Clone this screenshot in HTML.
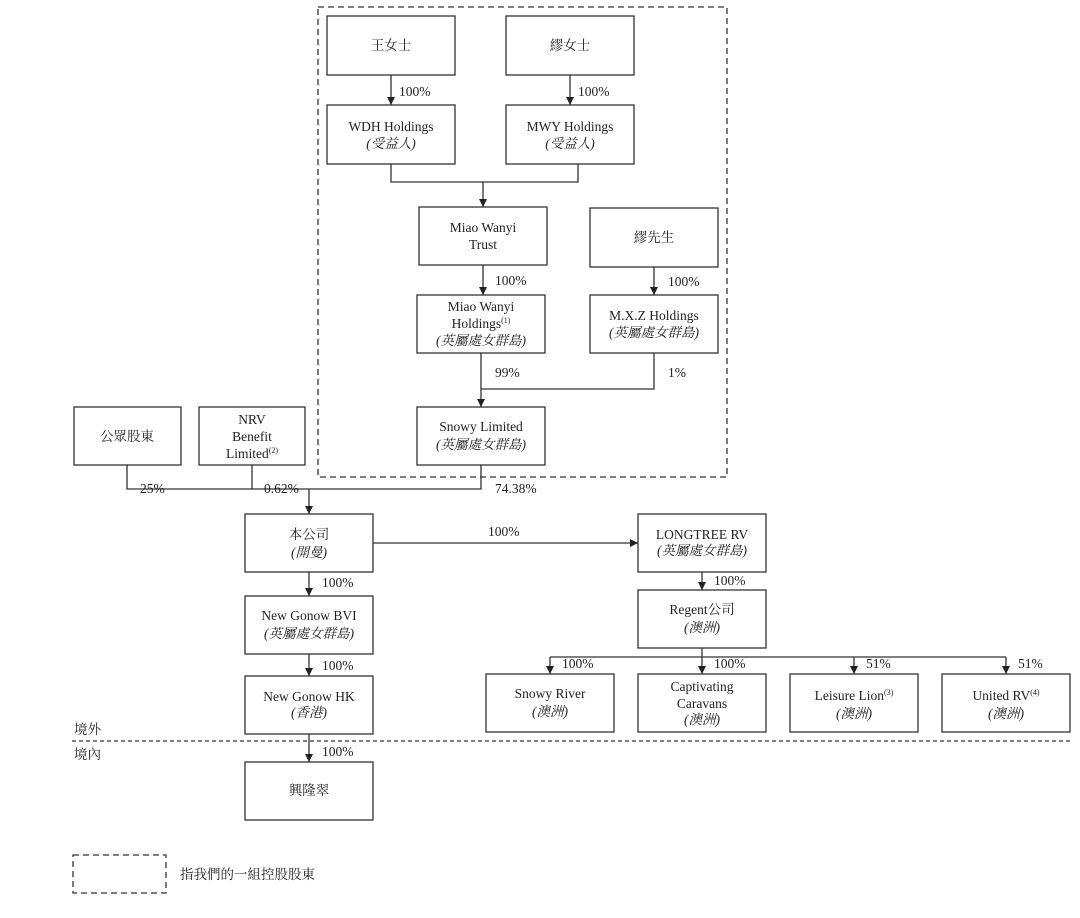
<!DOCTYPE html>
<html><head><meta charset="utf-8"><style>
body{margin:0;background:#fff}
svg text{font-family:"Liberation Serif","Noto Serif CJK SC",serif;font-size:13.5px;fill:#222}
.i{font-style:italic}
</style></head><body>
<svg width="1080" height="913" viewBox="0 0 1080 913" xmlns="http://www.w3.org/2000/svg">
<defs><marker id="a" markerWidth="8" markerHeight="8" refX="4" refY="7" orient="auto" markerUnits="userSpaceOnUse"><path d="M0,0 L8,0 L4,8 Z" fill="#222" transform="rotate(0)"/></marker></defs>
<g fill="none" stroke="#333" stroke-width="1.3">
<rect x="318" y="7" width="409" height="470" stroke-dasharray="6,4"/>
<rect x="327" y="16" width="128" height="59"/><rect x="506" y="16" width="128" height="59"/>
<rect x="327" y="105" width="128" height="59"/><rect x="506" y="105" width="128" height="59"/>
<rect x="419" y="207" width="128" height="58"/><rect x="590" y="208" width="128" height="59"/>
<rect x="417" y="295" width="128" height="58"/><rect x="590" y="295" width="128" height="58"/>
<rect x="417" y="407" width="128" height="58"/>
<rect x="74" y="407" width="107" height="58"/><rect x="199" y="407" width="106" height="58"/>
<rect x="245" y="514" width="128" height="58"/><rect x="245" y="596" width="128" height="58"/>
<rect x="245" y="676" width="128" height="58"/><rect x="245" y="762" width="128" height="58"/>
<rect x="638" y="514" width="128" height="58"/><rect x="638" y="590" width="128" height="58"/>
<rect x="486" y="674" width="128" height="58"/><rect x="638" y="674" width="128" height="58"/>
<rect x="790" y="674" width="128" height="58"/><rect x="942" y="674" width="128" height="58"/>
<line x1="72" y1="741" x2="1072" y2="741" stroke-dasharray="4,3"/>
<rect x="73" y="855" width="93" height="38" stroke-dasharray="6,4"/>
<path d="M391,75V105M570,75V105M391,164V182H578V164M483,182V207M483,265V295M654,267V295M481,353V407M654,353V389H481M127,465V489H481V465M252,465V489M309,489V514M373,543H638M309,572V596M309,654V676M309,734V762M702,572V590M702,648V657M550,657H1006M550,657V674M702,657V674M854,657V674M1006,657V674" marker-end=""/>
</g>
<g fill="#222">
<path d="M387,97h8l-4,8zM566,97h8l-4,8zM479,199h8l-4,8zM479,287h8l-4,8zM650,287h8l-4,8zM477,399h8l-4,8zM305,506h8l-4,8zM630,539v8l8,-4zM305,588h8l-4,8zM305,668h8l-4,8zM305,754h8l-4,8zM698,582h8l-4,8zM546,666h8l-4,8zM698,666h8l-4,8zM850,666h8l-4,8zM1002,666h8l-4,8z"/>
</g>
<g text-anchor="middle">
<text x="391" y="50">王女士</text><text x="570" y="50">繆女士</text>
<text x="391" y="131">WDH Holdings</text><text x="391" y="148" class="i">(受益人)</text>
<text x="570" y="131">MWY Holdings</text><text x="570" y="148" class="i">(受益人)</text>
<text x="483" y="232">Miao Wanyi</text><text x="483" y="249">Trust</text>
<text x="654" y="242">繆先生</text>
<text x="481" y="311">Miao Wanyi</text><text x="481" y="328">Holdings<tspan font-size="8" dy="-5">(1)</tspan></text><text x="481" y="345" class="i">(英屬處女群島)</text>
<text x="654" y="320">M.X.Z Holdings</text><text x="654" y="337" class="i">(英屬處女群島)</text>
<text x="481" y="431">Snowy Limited</text><text x="481" y="449" class="i">(英屬處女群島)</text>
<text x="127" y="441">公眾股東</text>
<text x="252" y="424">NRV</text><text x="252" y="441">Benefit</text><text x="252" y="458">Limited<tspan font-size="8" dy="-5">(2)</tspan></text>
<text x="309" y="539">本公司</text><text x="309" y="557" class="i">(開曼)</text>
<text x="309" y="620">New Gonow BVI</text><text x="309" y="638" class="i">(英屬處女群島)</text>
<text x="309" y="701">New Gonow HK</text><text x="309" y="717" class="i">(香港)</text>
<text x="309" y="795">興隆翠</text>
<text x="702" y="539">LONGTREE RV</text><text x="702" y="555" class="i">(英屬處女群島)</text>
<text x="702" y="614">Regent公司</text><text x="702" y="632" class="i">(澳洲)</text>
<text x="550" y="698">Snowy River</text><text x="550" y="716" class="i">(澳洲)</text>
<text x="702" y="691">Captivating</text><text x="702" y="708">Caravans</text><text x="702" y="724" class="i">(澳洲)</text>
<text x="854" y="700">Leisure Lion<tspan font-size="8" dy="-5">(3)</tspan></text><text x="854" y="718" class="i">(澳洲)</text>
<text x="1006" y="700">United RV<tspan font-size="8" dy="-5">(4)</tspan></text><text x="1006" y="718" class="i">(澳洲)</text>
</g>
<text x="399" y="96">100%</text><text x="578" y="96">100%</text>
<text x="495" y="285">100%</text><text x="668" y="286">100%</text>
<text x="495" y="377">99%</text><text x="668" y="377">1%</text>
<text x="140" y="493">25%</text><text x="264" y="493">0.62%</text><text x="495" y="493">74.38%</text>
<text x="488" y="536">100%</text>
<text x="322" y="587">100%</text><text x="322" y="670">100%</text><text x="322" y="756">100%</text>
<text x="714" y="585">100%</text>
<text x="562" y="668">100%</text><text x="714" y="668">100%</text><text x="866" y="668">51%</text><text x="1018" y="668">51%</text>
<text x="74" y="734">境外</text><text x="74" y="759">境內</text>
<text x="180" y="879">指我們的一組控股股東</text>
</svg>
</body></html>
